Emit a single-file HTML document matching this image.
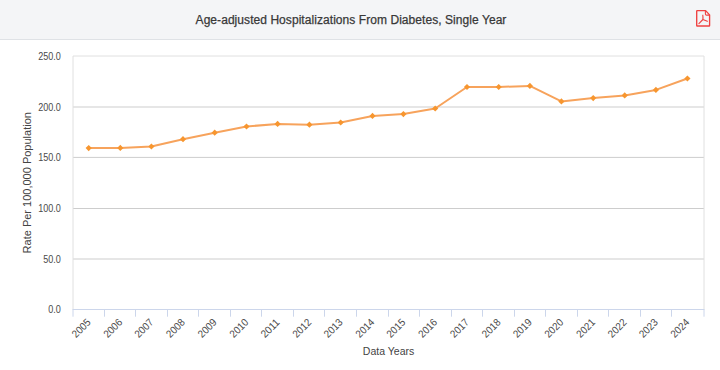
<!DOCTYPE html>
<html><head><meta charset="utf-8"><style>
html,body{margin:0;padding:0;width:720px;height:370px;overflow:hidden;background:#fff;font-family:"Liberation Sans",sans-serif;}
svg text{font-family:"Liberation Sans",sans-serif;}
.hdr{position:absolute;left:0;top:0;width:720px;height:39px;background:#f4f5f7;border-bottom:1px solid #dfe2e6;}
.ttl{position:absolute;left:0;top:1px;width:702px;height:39px;line-height:39px;text-align:center;font-size:12px;font-weight:normal;color:#383838;-webkit-text-stroke:0.25px #383838;letter-spacing:0.06px;white-space:nowrap;}
</style></head><body>
<div class="hdr"></div>
<div class="ttl">Age-adjusted Hospitalizations From Diabetes, Single Year</div>
<svg width="16" height="19" viewBox="0 0 16 19" style="position:absolute;left:695px;top:9px">
<path d="M2.2 1.6 H10.6 L14.6 5.9 V16.5 Q14.6 17 14.1 17 H2.2 Q1.7 17 1.7 16.5 V2.1 Q1.7 1.6 2.2 1.6 Z" fill="none" stroke="#ef4141" stroke-width="1.35" stroke-linejoin="round"/>
<path d="M10.4 1.8 V5.0 Q10.4 6.1 11.5 6.1 H14.4" fill="none" stroke="#ef4141" stroke-width="1.1"/>
<path d="M7.8 6.2 Q8.1 8.6 7.9 10.5 L3.9 14.6 M7.9 10.5 L12.3 12.3" fill="none" stroke="#ef4141" stroke-width="1.15" stroke-linecap="round" stroke-linejoin="round"/>
</svg>
<svg width="720" height="370" viewBox="0 0 720 370" style="position:absolute;left:0;top:0"><line x1="73.0" y1="107.0" x2="704.0" y2="107.0" stroke="#cdcdcd" stroke-width="1"/><line x1="73.0" y1="157.4" x2="704.0" y2="157.4" stroke="#cdcdcd" stroke-width="1"/><line x1="73.0" y1="208.5" x2="704.0" y2="208.5" stroke="#cdcdcd" stroke-width="1"/><line x1="73.0" y1="259.0" x2="704.0" y2="259.0" stroke="#cdcdcd" stroke-width="1"/><path d="M73.0 309.5 V56.0 H704.0 V309.5" fill="none" stroke="#e0e0e0" stroke-width="1"/><line x1="72.5" y1="309.5" x2="704.5" y2="309.5" stroke="#ccd6eb" stroke-width="1"/><line x1="73.0" y1="309.5" x2="73.0" y2="316.7" stroke="#ccd6eb" stroke-width="1"/><line x1="104.5" y1="309.5" x2="104.5" y2="316.7" stroke="#ccd6eb" stroke-width="1"/><line x1="135.5" y1="309.5" x2="135.5" y2="316.7" stroke="#ccd6eb" stroke-width="1"/><line x1="167.5" y1="309.5" x2="167.5" y2="316.7" stroke="#ccd6eb" stroke-width="1"/><line x1="198.5" y1="309.5" x2="198.5" y2="316.7" stroke="#ccd6eb" stroke-width="1"/><line x1="230.5" y1="309.5" x2="230.5" y2="316.7" stroke="#ccd6eb" stroke-width="1"/><line x1="261.5" y1="309.5" x2="261.5" y2="316.7" stroke="#ccd6eb" stroke-width="1"/><line x1="293.5" y1="309.5" x2="293.5" y2="316.7" stroke="#ccd6eb" stroke-width="1"/><line x1="324.5" y1="309.5" x2="324.5" y2="316.7" stroke="#ccd6eb" stroke-width="1"/><line x1="356.5" y1="309.5" x2="356.5" y2="316.7" stroke="#ccd6eb" stroke-width="1"/><line x1="388.5" y1="309.5" x2="388.5" y2="316.7" stroke="#ccd6eb" stroke-width="1"/><line x1="419.5" y1="309.5" x2="419.5" y2="316.7" stroke="#ccd6eb" stroke-width="1"/><line x1="451.5" y1="309.5" x2="451.5" y2="316.7" stroke="#ccd6eb" stroke-width="1"/><line x1="482.5" y1="309.5" x2="482.5" y2="316.7" stroke="#ccd6eb" stroke-width="1"/><line x1="514.5" y1="309.5" x2="514.5" y2="316.7" stroke="#ccd6eb" stroke-width="1"/><line x1="545.5" y1="309.5" x2="545.5" y2="316.7" stroke="#ccd6eb" stroke-width="1"/><line x1="577.5" y1="309.5" x2="577.5" y2="316.7" stroke="#ccd6eb" stroke-width="1"/><line x1="608.5" y1="309.5" x2="608.5" y2="316.7" stroke="#ccd6eb" stroke-width="1"/><line x1="640.5" y1="309.5" x2="640.5" y2="316.7" stroke="#ccd6eb" stroke-width="1"/><line x1="671.5" y1="309.5" x2="671.5" y2="316.7" stroke="#ccd6eb" stroke-width="1"/><line x1="704.0" y1="309.5" x2="704.0" y2="316.7" stroke="#ccd6eb" stroke-width="1"/><text x="60.9" y="60.30" text-anchor="end" font-size="10.0" fill="#4a4a4a" textLength="22.64" lengthAdjust="spacingAndGlyphs">250.0</text><text x="60.9" y="110.85" text-anchor="end" font-size="10.0" fill="#4a4a4a" textLength="22.64" lengthAdjust="spacingAndGlyphs">200.0</text><text x="60.9" y="161.40" text-anchor="end" font-size="10.0" fill="#4a4a4a" textLength="22.64" lengthAdjust="spacingAndGlyphs">150.0</text><text x="60.9" y="211.95" text-anchor="end" font-size="10.0" fill="#4a4a4a" textLength="22.64" lengthAdjust="spacingAndGlyphs">100.0</text><text x="60.9" y="262.50" text-anchor="end" font-size="10.0" fill="#4a4a4a" textLength="17.61" lengthAdjust="spacingAndGlyphs">50.0</text><text x="60.9" y="313.05" text-anchor="end" font-size="10.0" fill="#4a4a4a" textLength="12.58" lengthAdjust="spacingAndGlyphs">0.0</text><text x="91.40" y="323.0" text-anchor="end" font-size="10.5" fill="#4a4a4a" textLength="21.72" lengthAdjust="spacingAndGlyphs" transform="rotate(-45 91.40 323.0)">2005</text><text x="123.00" y="323.0" text-anchor="end" font-size="10.5" fill="#4a4a4a" textLength="21.72" lengthAdjust="spacingAndGlyphs" transform="rotate(-45 123.00 323.0)">2006</text><text x="154.10" y="323.0" text-anchor="end" font-size="10.5" fill="#4a4a4a" textLength="21.72" lengthAdjust="spacingAndGlyphs" transform="rotate(-45 154.10 323.0)">2007</text><text x="185.70" y="323.0" text-anchor="end" font-size="10.5" fill="#4a4a4a" textLength="21.72" lengthAdjust="spacingAndGlyphs" transform="rotate(-45 185.70 323.0)">2008</text><text x="217.40" y="323.0" text-anchor="end" font-size="10.5" fill="#4a4a4a" textLength="21.72" lengthAdjust="spacingAndGlyphs" transform="rotate(-45 217.40 323.0)">2009</text><text x="249.20" y="323.0" text-anchor="end" font-size="10.5" fill="#4a4a4a" textLength="21.72" lengthAdjust="spacingAndGlyphs" transform="rotate(-45 249.20 323.0)">2010</text><text x="280.30" y="323.0" text-anchor="end" font-size="10.5" fill="#4a4a4a" textLength="21.72" lengthAdjust="spacingAndGlyphs" transform="rotate(-45 280.30 323.0)">2011</text><text x="312.10" y="323.0" text-anchor="end" font-size="10.5" fill="#4a4a4a" textLength="21.72" lengthAdjust="spacingAndGlyphs" transform="rotate(-45 312.10 323.0)">2012</text><text x="343.40" y="323.0" text-anchor="end" font-size="10.5" fill="#4a4a4a" textLength="21.72" lengthAdjust="spacingAndGlyphs" transform="rotate(-45 343.40 323.0)">2013</text><text x="375.20" y="323.0" text-anchor="end" font-size="10.5" fill="#4a4a4a" textLength="21.72" lengthAdjust="spacingAndGlyphs" transform="rotate(-45 375.20 323.0)">2014</text><text x="406.10" y="323.0" text-anchor="end" font-size="10.5" fill="#4a4a4a" textLength="21.72" lengthAdjust="spacingAndGlyphs" transform="rotate(-45 406.10 323.0)">2015</text><text x="437.90" y="323.0" text-anchor="end" font-size="10.5" fill="#4a4a4a" textLength="21.72" lengthAdjust="spacingAndGlyphs" transform="rotate(-45 437.90 323.0)">2016</text><text x="469.70" y="323.0" text-anchor="end" font-size="10.5" fill="#4a4a4a" textLength="21.72" lengthAdjust="spacingAndGlyphs" transform="rotate(-45 469.70 323.0)">2017</text><text x="501.40" y="323.0" text-anchor="end" font-size="10.5" fill="#4a4a4a" textLength="21.72" lengthAdjust="spacingAndGlyphs" transform="rotate(-45 501.40 323.0)">2018</text><text x="532.60" y="323.0" text-anchor="end" font-size="10.5" fill="#4a4a4a" textLength="21.72" lengthAdjust="spacingAndGlyphs" transform="rotate(-45 532.60 323.0)">2019</text><text x="564.10" y="323.0" text-anchor="end" font-size="10.5" fill="#4a4a4a" textLength="21.72" lengthAdjust="spacingAndGlyphs" transform="rotate(-45 564.10 323.0)">2020</text><text x="595.90" y="323.0" text-anchor="end" font-size="10.5" fill="#4a4a4a" textLength="21.72" lengthAdjust="spacingAndGlyphs" transform="rotate(-45 595.90 323.0)">2021</text><text x="627.40" y="323.0" text-anchor="end" font-size="10.5" fill="#4a4a4a" textLength="21.72" lengthAdjust="spacingAndGlyphs" transform="rotate(-45 627.40 323.0)">2022</text><text x="658.60" y="323.0" text-anchor="end" font-size="10.5" fill="#4a4a4a" textLength="21.72" lengthAdjust="spacingAndGlyphs" transform="rotate(-45 658.60 323.0)">2023</text><text x="690.10" y="323.0" text-anchor="end" font-size="10.5" fill="#4a4a4a" textLength="21.72" lengthAdjust="spacingAndGlyphs" transform="rotate(-45 690.10 323.0)">2024</text><text x="388.6" y="355.2" text-anchor="middle" font-size="11.3" fill="#444" textLength="51.5" lengthAdjust="spacingAndGlyphs">Data Years</text><text x="0" y="0" text-anchor="middle" font-size="11" fill="#444" transform="translate(31 182.75) rotate(-90)">Rate Per 100,000 Population</text><path d="M88.7 148.1 L120.3 147.9 L151.4 146.5 L183.0 139.2 L214.7 132.7 L246.5 126.5 L277.6 123.9 L309.4 124.7 L340.7 122.5 L372.5 115.9 L403.4 114.1 L435.2 108.5 L467.0 87.0 L498.7 87.0 L529.9 85.9 L561.4 101.4 L593.2 98.1 L624.7 95.4 L655.9 89.9 L687.4 78.5" fill="none" stroke="#f7a35c" stroke-width="2" stroke-linejoin="round" stroke-linecap="round"/><path d="M88.7 145.0 L91.8 148.1 L88.7 151.2 L85.6 148.1 Z" fill="#f7962f"/><path d="M120.3 144.8 L123.4 147.9 L120.3 151.0 L117.2 147.9 Z" fill="#f7962f"/><path d="M151.4 143.4 L154.5 146.5 L151.4 149.6 L148.3 146.5 Z" fill="#f7962f"/><path d="M183.0 136.1 L186.1 139.2 L183.0 142.3 L179.9 139.2 Z" fill="#f7962f"/><path d="M214.7 129.6 L217.8 132.7 L214.7 135.8 L211.6 132.7 Z" fill="#f7962f"/><path d="M246.5 123.4 L249.6 126.5 L246.5 129.6 L243.4 126.5 Z" fill="#f7962f"/><path d="M277.6 120.8 L280.7 123.9 L277.6 127.0 L274.5 123.9 Z" fill="#f7962f"/><path d="M309.4 121.6 L312.5 124.7 L309.4 127.8 L306.3 124.7 Z" fill="#f7962f"/><path d="M340.7 119.4 L343.8 122.5 L340.7 125.6 L337.6 122.5 Z" fill="#f7962f"/><path d="M372.5 112.8 L375.6 115.9 L372.5 119.0 L369.4 115.9 Z" fill="#f7962f"/><path d="M403.4 111.0 L406.5 114.1 L403.4 117.2 L400.3 114.1 Z" fill="#f7962f"/><path d="M435.2 105.4 L438.3 108.5 L435.2 111.6 L432.1 108.5 Z" fill="#f7962f"/><path d="M467.0 83.9 L470.1 87.0 L467.0 90.1 L463.9 87.0 Z" fill="#f7962f"/><path d="M498.7 83.9 L501.8 87.0 L498.7 90.1 L495.6 87.0 Z" fill="#f7962f"/><path d="M529.9 82.8 L533.0 85.9 L529.9 89.0 L526.8 85.9 Z" fill="#f7962f"/><path d="M561.4 98.3 L564.5 101.4 L561.4 104.5 L558.3 101.4 Z" fill="#f7962f"/><path d="M593.2 95.0 L596.3 98.1 L593.2 101.2 L590.1 98.1 Z" fill="#f7962f"/><path d="M624.7 92.3 L627.8 95.4 L624.7 98.5 L621.6 95.4 Z" fill="#f7962f"/><path d="M655.9 86.8 L659.0 89.9 L655.9 93.0 L652.8 89.9 Z" fill="#f7962f"/><path d="M687.4 75.4 L690.5 78.5 L687.4 81.6 L684.3 78.5 Z" fill="#f7962f"/></svg>
</body></html>
